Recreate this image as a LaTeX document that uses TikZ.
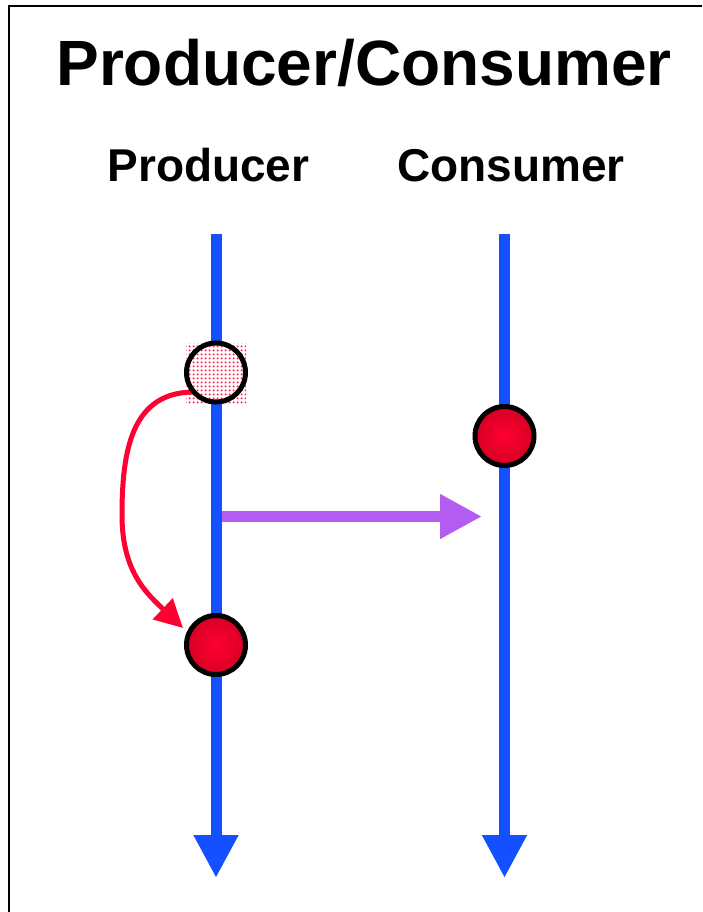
\documentclass[tikz,border=0pt]{standalone}
\usepackage{fontspec}
\setmainfont{Liberation Sans}
\usetikzlibrary{arrows.meta,patterns.meta}

\definecolor{lineblue}{RGB}{20,80,255}
\definecolor{msgpurple}{RGB}{180,92,242}
\definecolor{linkred}{RGB}{255,0,51}
\definecolor{ballred}{RGB}{255,0,48}
\definecolor{balldark}{RGB}{215,0,36}
\definecolor{dotpink}{RGB}{245,40,80}

% small dots used for the pending event's backdrop
\tikzdeclarepattern{
  name=pinkdots, type=uncolored,
  bounding box={(0pt,0pt) and (4pt,4pt)},
  tile size={(4pt,4pt)},
  code={\fill (2pt,2pt) circle [radius=1.3pt];}
}

\begin{document}
\begin{tikzpicture}[x=1pt,y=-1pt,
  timeline/.style={draw=lineblue, line width=11pt, -{Triangle[length=43pt,width=42pt]}},
  message/.style={draw=msgpurple, line width=11pt, -{Triangle[length=42pt,width=42pt]}},
  link/.style={draw=linkred, line width=5pt, -{Triangle[length=28pt,width=28pt]}},
  event/.style={circle, draw=black, line width=5pt, minimum size=59pt, inner sep=0pt},
  fired/.style={event, inner color=ballred, outer color=balldark},
  heading/.style={font=\fontsize{46}{52}\selectfont\bfseries, anchor=base, inner sep=0pt},
  frameline/.style={draw=black, line width=2.5pt}]
\useasboundingbox (0,0) rectangle (702,912);

% frame (open to the right and bottom)
\coordinate (fbl) at (9,912);
\coordinate (ftl) at (9,6);
\coordinate (ftr) at (702,6);
\draw[frameline] (fbl) -- (ftl) -- (ftr);

% titles
\node[font=\fontsize{64}{70}\selectfont\bfseries, anchor=base, inner sep=0pt] (title) at (364,86) {Producer/Consumer};
\node[heading] (prodlabel) at (208.5,182) {Producer};
\node[heading] (conslabel) at (511,182) {Consumer};

% time lines
\coordinate (ptop) at (216,234);
\coordinate (pbot) at (216,878);
\coordinate (ctop) at (504.5,234);
\coordinate (cbot) at (504.5,878);
\draw[timeline] (ptop) -- (pbot);
\draw[timeline] (ctop) -- (cbot);

% pending event backdrop: white square covered with dots
\fill[white] (186,343) rectangle (246,403);
\fill[pattern=pinkdots, pattern color=dotpink] (186,343) rectangle (246,403);

% link from the pending event to the fired one
\coordinate (lstart) at (194,392);
\coordinate (lend) at (183,628);
\coordinate (lmid) at (122,515);
\draw[link] (lstart) .. controls (132,392) and (122,450) .. (lmid)
            .. controls (122,570) and (145,592) .. (lend);

% events
\node[event] (pending) at (216,372.5) {};
\node[fired] (pfired) at (216,645) {};
\node[fired] (cfired) at (504.5,436) {};

% message to the consumer
\coordinate (mstart) at (222,516.5);
\coordinate (mend) at (482,516.5);
\draw[message] (mstart) -- (mend);

\end{tikzpicture}
\end{document}
